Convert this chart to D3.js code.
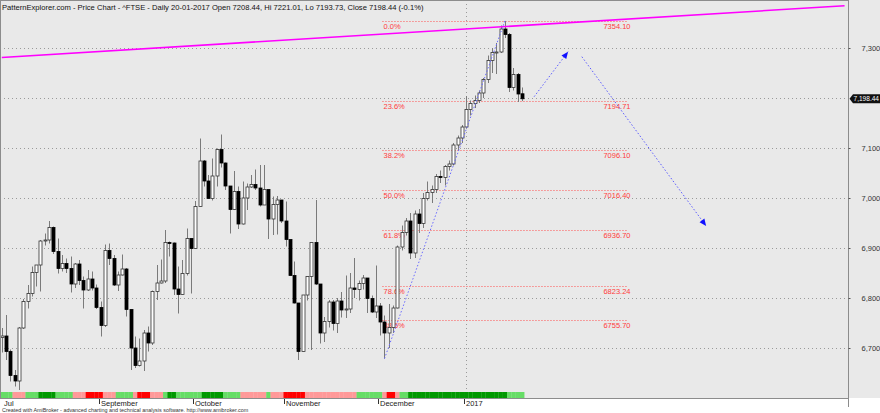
<!DOCTYPE html>
<html>
<head>
<meta charset="utf-8">
<script src="https://cdn.jsdelivr.net/npm/d3@7"></script>
<style>
  body { margin: 0; background: #fff; }
  svg { display: block; font-family: 'Liberation Sans', Arial, sans-serif; }
</style>
</head>
<body>
<div id="chart"></div>
<script>
const dates = [
  '2016-07-29',
  '2016-08-01', '2016-08-02', '2016-08-03', '2016-08-04', '2016-08-05', '2016-08-08', '2016-08-09', '2016-08-10',
  '2016-08-11', '2016-08-12', '2016-08-15', '2016-08-16', '2016-08-17', '2016-08-18', '2016-08-19', '2016-08-22',
  '2016-08-23', '2016-08-24', '2016-08-25', '2016-08-26', '2016-08-30', '2016-08-31',
  '2016-09-01', '2016-09-02', '2016-09-05', '2016-09-06', '2016-09-07', '2016-09-08', '2016-09-09', '2016-09-12',
  '2016-09-13', '2016-09-14', '2016-09-15', '2016-09-16', '2016-09-19', '2016-09-20', '2016-09-21', '2016-09-22',
  '2016-09-23', '2016-09-26', '2016-09-27', '2016-09-28', '2016-09-29', '2016-09-30',
  '2016-10-03', '2016-10-04', '2016-10-05', '2016-10-06', '2016-10-07', '2016-10-10', '2016-10-11', '2016-10-12',
  '2016-10-13', '2016-10-14', '2016-10-17', '2016-10-18', '2016-10-19', '2016-10-20', '2016-10-21', '2016-10-24',
  '2016-10-25', '2016-10-26', '2016-10-27', '2016-10-28', '2016-10-31',
  '2016-11-01', '2016-11-02', '2016-11-03', '2016-11-04', '2016-11-07', '2016-11-08', '2016-11-09', '2016-11-10',
  '2016-11-11', '2016-11-14', '2016-11-15', '2016-11-16', '2016-11-17', '2016-11-18', '2016-11-21', '2016-11-22',
  '2016-11-23', '2016-11-24', '2016-11-25', '2016-11-28', '2016-11-29', '2016-11-30',
  '2016-12-01', '2016-12-02', '2016-12-05', '2016-12-06', '2016-12-07', '2016-12-08', '2016-12-09', '2016-12-12',
  '2016-12-13', '2016-12-14', '2016-12-15', '2016-12-16', '2016-12-19', '2016-12-20', '2016-12-21', '2016-12-22',
  '2016-12-23', '2016-12-28', '2016-12-29', '2016-12-30',
  '2017-01-03', '2017-01-04', '2017-01-05', '2017-01-06', '2017-01-09', '2017-01-10', '2017-01-11', '2017-01-12',
  '2017-01-13', '2017-01-16', '2017-01-17', '2017-01-18', '2017-01-19', '2017-01-20'
]

const opens = [
  6721,
  6724, 6693, 6645, 6634, 6740, 6793, 6809, 6851, 6866, 6914, 6916, 6941, 6893, 6859, 6869, 6859,
  6828, 6868, 6835, 6816, 6838, 6820,
  6781, 6745, 6895, 6879, 6826, 6846, 6858, 6777, 6700, 6665, 6674, 6730, 6710, 6813, 6830, 6834,
  6911, 6910, 6818, 6807, 6849, 6919,
  6899, 6983, 7074, 7034, 6999, 7044, 7097, 7070, 7024, 6977, 7013, 6948, 7000, 7022, 7027, 7020,
  6986, 7017, 6958, 6987, 6996,
  6954, 6917, 6845, 6790, 6693, 6806, 6843, 6911, 6828, 6730, 6753, 6792, 6749, 6794, 6776, 6778,
  6820, 6817, 6829, 6840, 6799, 6772,
  6784, 6752, 6730, 6741, 6780, 6902, 6931, 6954, 6890, 6968, 6949, 6999, 7011, 7017, 7043, 7041,
  7063, 7068, 7106, 7120,
  7142, 7177, 7189, 7195, 7210, 7237, 7275, 7291, 7292, 7338, 7327, 7221, 7247, 7208.44
]
const highs = [
  6740,
  6766, 6697, 6656, 6742, 6798, 6826, 6863, 6866, 6916, 6929, 6954, 6943, 6919, 6886, 6879, 6883,
  6870, 6876, 6843, 6856, 6853, 6827,
  6793, 6907, 6909, 6886, 6853, 6887, 6860, 6778, 6723, 6719, 6736, 6743, 6815, 6866, 6877, 6936,
  6913, 6911, 6863, 6876, 6939, 6920,
  6994, 7119, 7076, 7046, 7079, 7099, 7127, 7071, 7024, 7054, 7023, 7033, 7029, 7046, 7057, 7066,
  7066, 7017, 7003, 7004, 6996,
  6993, 6917, 6873, 6790, 6806, 6844, 6911, 6996, 6828, 6762, 6796, 6796, 6800, 6812, 6845, 6850,
  6880, 6835, 6846, 6840, 6805, 6865,
  6790, 6765, 6788, 6785, 6905, 6945, 6960, 6970, 6975, 6978, 7010, 7033, 7025, 7048, 7055, 7066,
  7075, 7110, 7125, 7146,
  7204, 7195, 7205, 7215, 7240, 7285, 7300, 7310, 7345, 7354.1, 7330, 7260, 7250, 7221.01
]
const lows = [
  6691,
  6676, 6633, 6623, 6616, 6738, 6779, 6803, 6823, 6813, 6905, 6909, 6888, 6849, 6853, 6850, 6811,
  6820, 6826, 6779, 6814, 6815, 6778,
  6723, 6742, 6866, 6824, 6814, 6845, 6763, 6656, 6660, 6663, 6654, 6693, 6706, 6796, 6829, 6830,
  6883, 6806, 6769, 6806, 6845, 6809,
  6898, 6983, 7023, 6999, 6995, 7023, 7061, 7016, 6929, 6976, 6938, 6947, 6976, 7020, 7016, 6983,
  6986, 6918, 6926, 6927, 6950,
  6903, 6845, 6789, 6676, 6693, 6795, 6696, 6826, 6709, 6712, 6741, 6735, 6730, 6761, 6760, 6770,
  6800, 6795, 6817, 6770, 6770, 6760,
  6725, 6678.7, 6700, 6730, 6779, 6895, 6925, 6878, 6880, 6930, 6940, 6995, 6990, 7010, 7030, 7025,
  7055, 7065, 7095, 7110,
  7140, 7165, 7180, 7190, 7200, 7230, 7250, 7248, 7290, 7320, 7212, 7215, 7192, 7193.73
]
const closes = [
  6724,
  6693, 6645, 6634, 6740, 6793, 6809, 6851, 6866, 6914, 6916, 6941, 6893, 6859, 6869, 6859, 6828,
  6868, 6835, 6816, 6838, 6820, 6781,
  6745, 6895, 6879, 6826, 6846, 6858, 6777, 6700, 6665, 6674, 6730, 6710, 6813, 6830, 6834, 6911,
  6910, 6818, 6807, 6849, 6919, 6899,
  6983, 7074, 7034, 6999, 7044, 7097, 7070, 7024, 6977, 7013, 6948, 7000, 7022, 7027, 7020, 6986,
  7017, 6958, 6987, 6996, 6954,
  6917, 6845, 6790, 6693, 6806, 6843, 6911, 6828, 6730, 6753, 6792, 6749, 6794, 6776, 6778, 6820,
  6817, 6829, 6840, 6799, 6772, 6784,
  6752, 6730, 6741, 6780, 6902, 6931, 6954, 6890, 6968, 6949, 6999, 7011, 7017, 7043, 7041, 7063,
  7068, 7106, 7120, 7142,
  7177, 7189, 7195, 7210, 7237, 7275, 7291, 7292, 7338, 7327, 7221, 7247, 7208, 7198.44
]

// indicator ribbon under the price: lg light green, dg dark green, pk pink, rd red
const ribbon = [
  'lg', 'lg', 'lg', 'pk', 'pk', 'pk', 'lg', 'lg', 'lg', 'dg', 'dg', 'dg', 'dg', 'lg', 'lg', 'lg', 'lg',
  'pk', 'pk', 'pk', 'rd', 'rd', 'rd', 'rd', 'pk', 'pk', 'pk', 'lg', 'lg', 'lg', 'lg', 'pk', 'rd', 'rd',
  'rd', 'pk', 'pk', 'pk', 'lg', 'dg', 'dg', 'lg', 'lg', 'lg', 'lg', 'lg', 'lg', 'dg', 'dg', 'dg', 'dg',
  'dg', 'lg', 'lg', 'lg', 'lg', 'pk', 'pk', 'pk', 'pk', 'pk', 'pk', 'lg', 'pk', 'pk', 'pk', 'rd', 'rd',
  'rd', 'rd', 'rd', 'pk', 'pk', 'pk', 'pk', 'pk', 'pk', 'pk', 'pk', 'pk', 'pk', 'pk', 'pk', 'lg', 'lg',
  'lg', 'lg', 'lg', 'lg', 'pk', 'rd', 'rd', 'pk', 'lg', 'lg', 'dg', 'dg', 'dg', 'dg', 'dg', 'dg', 'dg',
  'dg', 'dg', 'dg', 'dg', 'dg', 'dg', 'dg', 'dg', 'dg', 'dg', 'dg', 'dg', 'dg', 'dg', 'dg', 'dg', 'lg',
  'lg', 'lg', 'lg'
]
const ribbonColors = { lg: '#66dd66', dg: '#009900', pk: '#ff9999', rd: '#ff0000' }

const yTicks = [6700, 6800, 6900, 7000, 7100, 7200, 7300]
// 7,200 is hidden behind the last price marker
const yTickLabels = [6700, 6800, 6900, 7000, 7100, 7300]

const monthTickDates = ['2016-07-29', '2016-09-01', '2016-10-03', '2016-11-01', '2016-12-01', '2017-01-03']
const monthTickLabels = ['Jul', 'September', 'October', 'November', 'December', '2017']

const fibLabels = ['0.0%', '23.6%', '38.2%', '50.0%', '61.8%', '78.6%', '88.6%']
const fibLevels = [7354.10, 7194.71, 7096.10, 7016.40, 6936.70, 6823.24, 6755.70]

// drawn lines, as [bar index, price]
const resistanceLine = [[0, 7281], [196, 7384.5]]
const swingLine = [[89, 6678.7], [117, 7354.1]]
const arrowUp = [[123.8, 7202.6], [131.7, 7292.6]]
const arrowDown = [[134.9, 7282.6], [163.8, 6944]]

const lastClose = 7198.44
const title = 'PatternExplorer.com - Price Chart - ^FTSE - Daily 20-01-2017 Open 7208.44, Hi 7221.01, Lo 7193.73, Close 7198.44 (-0.1%)'

const totalWidth = 880
const totalHeight = 413
const plotRight = 848
const plotBottom = 398

const svg = d3
  .select('#chart')
  .append('svg')
  .attr('width', totalWidth)
  .attr('height', totalHeight)

svg
  .append('rect')
  .attr('width', totalWidth)
  .attr('height', totalHeight)
  .attr('fill', '#fff')

svg
  .append('rect')
  .attr('x', 0)
  .attr('y', 0)
  .attr('width', totalWidth)
  .attr('height', plotBottom)
  .attr('fill', '#e9e9e9')

const xPositionScale = d3.scaleLinear().domain([0, 196.8]).range([1.8, plotRight])
const yPositionScale = d3.scaleLinear().domain([6600, 7400]).range([plotBottom, -2])
const step = xPositionScale(1) - xPositionScale(0)

const bars = dates.map((d, i) => ({
  i: i,
  date: d,
  open: opens[i],
  high: highs[i],
  low: lows[i],
  close: closes[i],
  band: ribbon[i]
}))

svg
  .append('defs')
  .append('clipPath')
  .attr('id', 'plot-clip')
  .append('rect')
  .attr('width', plotRight)
  .attr('height', plotBottom)

const plot = svg.append('g').attr('clip-path', 'url(#plot-clip)')

// horizontal grid
const yGrid = d3
  .axisLeft(yPositionScale)
  .tickValues(yTicks)
  .tickSize(-(plotRight - 3))
  .tickFormat('')
plot
  .append('g')
  .attr('class', 'y-grid')
  .call(yGrid)
plot.selectAll('.y-grid path').remove()
plot
  .selectAll('.y-grid line')
  .attr('stroke', '#9a9a9a')
  .attr('stroke-dasharray', '1,3')

// year separator
const yearIndex = dates.indexOf('2017-01-03')
plot
  .append('line')
  .attr('x1', Math.round(xPositionScale(yearIndex)) + 0.5)
  .attr('x2', Math.round(xPositionScale(yearIndex)) + 0.5)
  .attr('y1', 0)
  .attr('y2', plotBottom)
  .attr('stroke', '#9a9a9a')
  .attr('stroke-dasharray', '1,3')

// fib levels
const fibStart = swingLine[0][0]
const fibEnd = 145.5
fibLevels.forEach(function(level, k) {
  const yy = Math.round(yPositionScale(level)) + 0.5
  plot
    .append('line')
    .attr('x1', xPositionScale(fibStart) - 2)
    .attr('x2', xPositionScale(fibEnd))
    .attr('y1', yy)
    .attr('y2', yy)
    .attr('stroke', '#ff5050')
    .attr('stroke-dasharray', '1,2')
  plot
    .append('text')
    .text(fibLabels[k])
    .attr('x', xPositionScale(fibStart) - 1)
    .attr('y', yy + 7)
    .attr('font-size', 7.5)
    .attr('fill', '#ff3c3c')
  plot
    .append('text')
    .text(level.toFixed(2))
    .attr('x', xPositionScale(fibEnd) - 24)
    .attr('y', yy + 7)
    .attr('font-size', 7.5)
    .attr('fill', '#ff3c3c')
})

// candles
const candle = plot
  .selectAll('.candle')
  .data(bars)
  .enter()
  .append('g')
  .attr('class', 'candle')

candle
  .append('line')
  .attr('x1', d => Math.round(xPositionScale(d.i)) + 0.5)
  .attr('x2', d => Math.round(xPositionScale(d.i)) + 0.5)
  .attr('y1', d => yPositionScale(d.high))
  .attr('y2', d => yPositionScale(d.low))
  .attr('stroke', '#7a7a7a')
  .attr('stroke-width', 1)

candle
  .append('rect')
  .attr('x', d => Math.round(xPositionScale(d.i)) - 1)
  .attr('width', 3)
  .attr('y', d => yPositionScale(Math.max(d.open, d.close)))
  .attr('height', d => Math.max(1, Math.abs(yPositionScale(d.open) - yPositionScale(d.close))))
  .attr('fill', d => (d.close >= d.open ? '#fff' : '#000'))
  .attr('stroke', d => (d.close >= d.open ? '#333' : '#000'))
  .attr('stroke-width', 0.8)

// magenta resistance line
const line = d3
  .line()
  .x(d => xPositionScale(d[0]))
  .y(d => yPositionScale(d[1]))

plot
  .append('path')
  .datum(resistanceLine)
  .attr('d', line)
  .attr('stroke', '#ff00ff')
  .attr('stroke-width', 1.6)
  .attr('fill', 'none')

// blue dotted trend + projection arrows
plot
  .append('path')
  .datum(swingLine)
  .attr('d', line)
  .attr('stroke', '#6a6aff')
  .attr('stroke-dasharray', '1.5,2')
  .attr('fill', 'none')

function drawArrow(points) {
  plot
    .append('path')
    .datum(points)
    .attr('d', line)
    .attr('stroke', '#5b5bff')
    .attr('stroke-dasharray', '1.5,2')
    .attr('fill', 'none')
  const x1 = xPositionScale(points[0][0])
  const y1 = yPositionScale(points[0][1])
  const x2 = xPositionScale(points[1][0])
  const y2 = yPositionScale(points[1][1])
  const angle = Math.atan2(y2 - y1, x2 - x1) * 180 / Math.PI
  plot
    .append('path')
    .attr('d', 'M0,0 L-7,-3 L-7,3 Z')
    .attr('transform', 'translate(' + x2 + ',' + y2 + ') rotate(' + angle + ')')
    .attr('fill', '#1010ff')
}
drawArrow(arrowUp)
drawArrow(arrowDown)

// indicator ribbon
plot
  .selectAll('.band')
  .data(bars)
  .enter()
  .append('rect')
  .attr('class', 'band')
  .attr('x', d => xPositionScale(d.i) - step / 2)
  .attr('width', step + 0.2)
  .attr('y', plotBottom - 6)
  .attr('height', 6)
  .attr('fill', d => ribbonColors[d.band])

// frame
svg
  .append('rect')
  .attr('x', 0.5)
  .attr('y', 0.5)
  .attr('width', plotRight)
  .attr('height', plotBottom)
  .attr('fill', 'none')
  .attr('stroke', '#8c8c8c')
svg
  .append('line')
  .attr('x1', plotRight + 0.5)
  .attr('x2', plotRight + 0.5)
  .attr('y1', 0)
  .attr('y2', 407)
  .attr('stroke', '#8c8c8c')

// right axis
const yAxis = d3
  .axisRight(yPositionScale)
  .tickValues(yTickLabels)
  .tickSize(2)
  .tickPadding(11)
  .tickFormat(d3.format(','))
svg
  .append('g')
  .attr('class', 'axis y-axis')
  .attr('transform', 'translate(' + (plotRight + 0.5) + ',0)')
  .call(yAxis)
svg.selectAll('.y-axis path').remove()
svg.selectAll('.y-axis line').attr('stroke', '#555')
svg
  .selectAll('.y-axis text')
  .attr('font-size', 7.5)
  .attr('fill', '#333')
  .attr('font-family', "'Liberation Sans', Arial, sans-serif")

// last price marker
const yLast = yPositionScale(lastClose)
svg
  .append('path')
  .attr('d', 'M849.5,' + yLast + ' L853,' + (yLast - 4.5) + ' L880,' + (yLast - 4.5) + ' L880,' + (yLast + 4.5) + ' L853,' + (yLast + 4.5) + ' Z')
  .attr('fill', '#111')
svg
  .append('text')
  .text(d3.format(',.2f')(lastClose))
  .attr('x', 853.5)
  .attr('y', yLast + 2.5)
  .attr('font-size', 7)
  .attr('textLength', 25.5)
  .attr('lengthAdjust', 'spacingAndGlyphs')
  .attr('fill', '#fff')

// month axis
const monthIdx = monthTickDates.map(d => dates.indexOf(d))
const xAxis = svg.append('g').attr('class', 'x-axis')
monthIdx.forEach(function(idx, k) {
  const xx = Math.round(xPositionScale(idx)) - 1.5
  if (k > 0) {
    xAxis
      .append('line')
      .attr('x1', xx)
      .attr('x2', xx)
      .attr('y1', plotBottom + 1)
      .attr('y2', plotBottom + 6)
      .attr('stroke', '#333')
  }
  xAxis
    .append('text')
    .text(monthTickLabels[k])
    .attr('x', k > 0 ? xx + 1.5 : 4)
    .attr('y', plotBottom + 8)
    .attr('font-size', 7.5)
    .attr('fill', '#222')
})

// title and footer
svg
  .append('text')
  .text(title)
  .attr('x', 2)
  .attr('y', 10)
  .attr('font-size', 7.6)
  .attr('fill', '#111')

svg
  .append('text')
  .text('Created with AmiBroker - advanced charting and technical analysis software. http://www.amibroker.com')
  .attr('x', 2)
  .attr('y', 412)
  .attr('font-size', 5.4)
  .attr('fill', '#333')
</script>
</body>
</html>
